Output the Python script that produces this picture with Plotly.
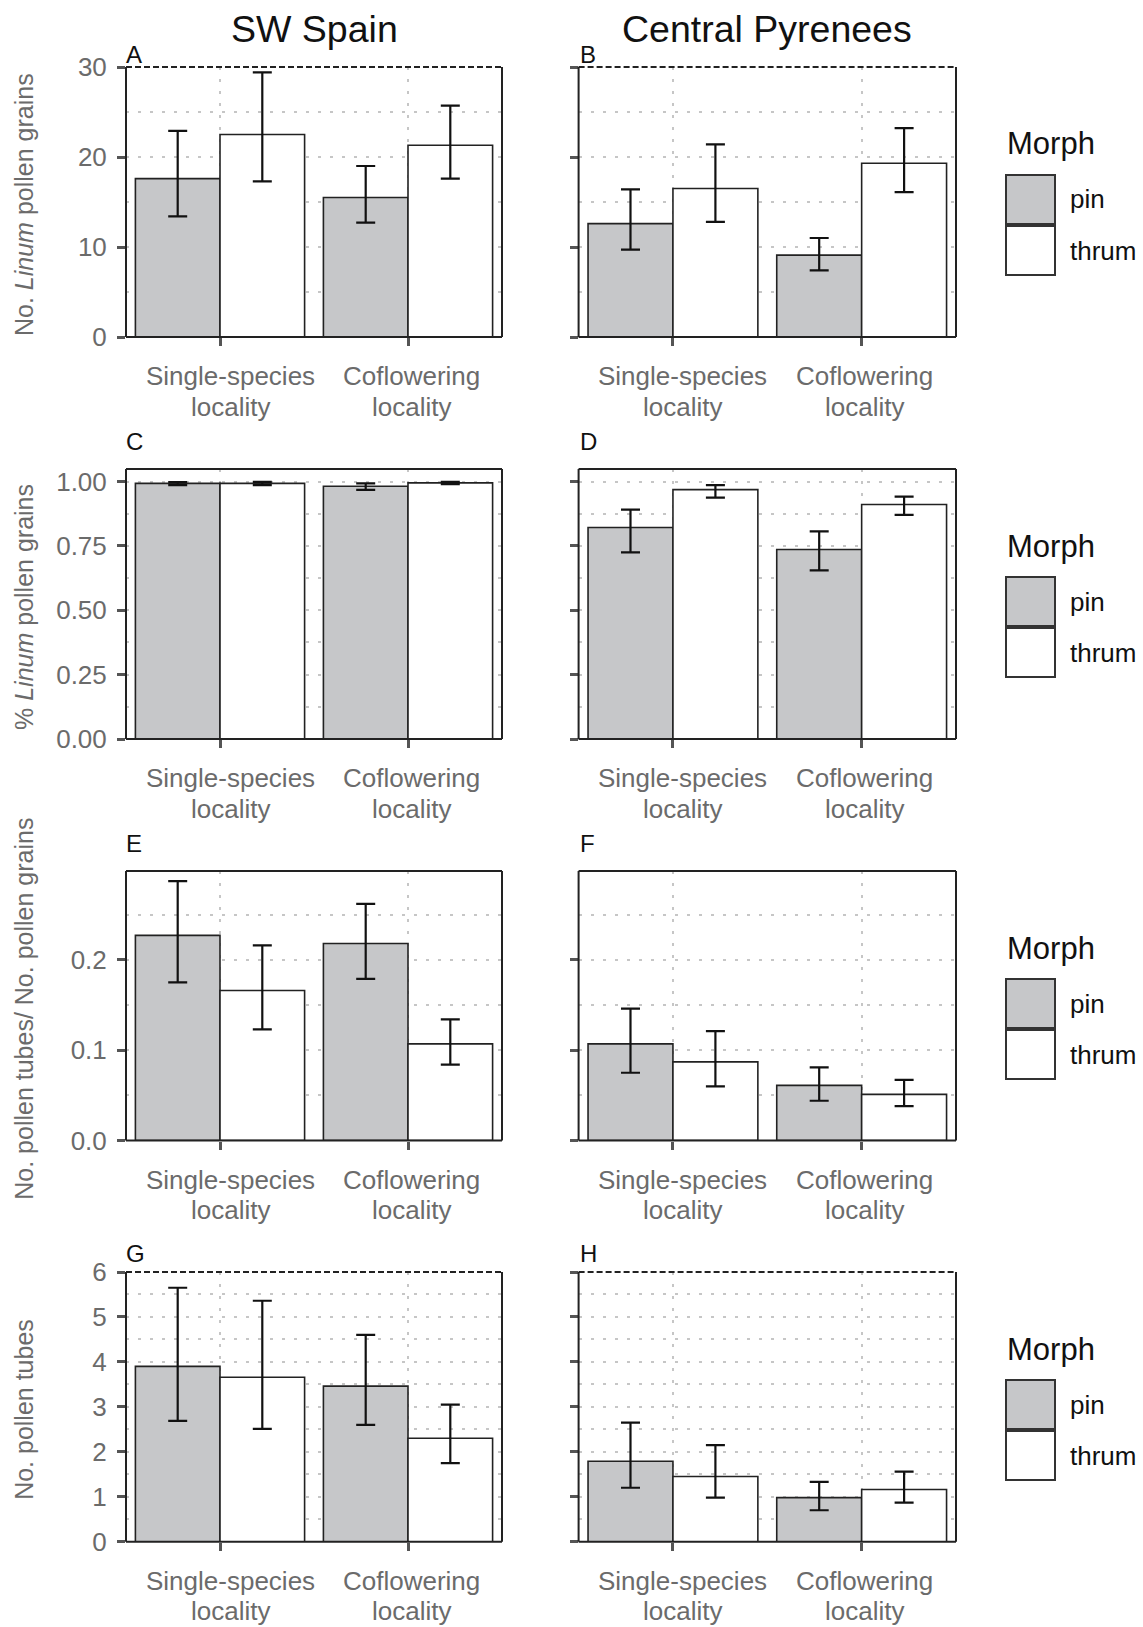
import plotly.graph_objects as go

# ---------------- data ----------------
categories = ["Single-species<br>locality", "Coflowering<br>locality"]
morphs = ["pin", "thrum"]
regions = ["SW Spain", "Central Pyrenees"]
panel_letters = ["A", "B", "C", "D", "E", "F", "G", "H"]
y_titles = ["No. <i>Linum</i> pollen grains", "% <i>Linum</i> pollen grains",
            "No. pollen tubes/ No. pollen grains", "No. pollen tubes"]

# A: SW Spain, No. Linum pollen grains
A_pin_mean = [17.6, 15.5]
A_pin_lo = [13.4, 12.7]
A_pin_hi = [22.9, 19.0]
A_thrum_mean = [22.5, 21.3]
A_thrum_lo = [17.3, 17.6]
A_thrum_hi = [29.4, 25.7]
# B: Central Pyrenees, No. Linum pollen grains
B_pin_mean = [12.6, 9.1]
B_pin_lo = [9.7, 7.4]
B_pin_hi = [16.4, 11.0]
B_thrum_mean = [16.5, 19.3]
B_thrum_lo = [12.8, 16.1]
B_thrum_hi = [21.4, 23.2]
# C: SW Spain, % Linum pollen grains
C_pin_mean = [0.993, 0.982]
C_pin_lo = [0.986, 0.968]
C_pin_hi = [0.998, 0.993]
C_thrum_mean = [0.993, 0.995]
C_thrum_lo = [0.986, 0.990]
C_thrum_hi = [0.999, 0.999]
# D: Central Pyrenees, % Linum pollen grains
D_pin_mean = [0.822, 0.736]
D_pin_lo = [0.725, 0.655]
D_pin_hi = [0.891, 0.807]
D_thrum_mean = [0.969, 0.911]
D_thrum_lo = [0.938, 0.871]
D_thrum_hi = [0.986, 0.942]
# E: SW Spain, pollen tubes / pollen grains
E_pin_mean = [0.227, 0.218]
E_pin_lo = [0.175, 0.179]
E_pin_hi = [0.287, 0.262]
E_thrum_mean = [0.166, 0.107]
E_thrum_lo = [0.123, 0.084]
E_thrum_hi = [0.216, 0.134]
# F: Central Pyrenees, pollen tubes / pollen grains
F_pin_mean = [0.107, 0.061]
F_pin_lo = [0.075, 0.044]
F_pin_hi = [0.146, 0.081]
F_thrum_mean = [0.087, 0.051]
F_thrum_lo = [0.060, 0.038]
F_thrum_hi = [0.121, 0.067]
# G: SW Spain, No. pollen tubes
G_pin_mean = [3.90, 3.46]
G_pin_lo = [2.69, 2.60]
G_pin_hi = [5.65, 4.60]
G_thrum_mean = [3.66, 2.30]
G_thrum_lo = [2.51, 1.75]
G_thrum_hi = [5.36, 3.05]
# H: Central Pyrenees, No. pollen tubes
H_pin_mean = [1.79, 0.98]
H_pin_lo = [1.20, 0.70]
H_pin_hi = [2.65, 1.33]
H_thrum_mean = [1.45, 1.16]
H_thrum_lo = [0.98, 0.87]
H_thrum_hi = [2.15, 1.56]

# y-axis settings per row
row_y_max = [30, 1.049, 0.2983, 6]
row_y_dtick = [10, 0.25, 0.1, 1]
row_y_minor = [5, 0.125, 0.05, 0.5]
row_y_fmt = ["d", ".2f", ".1f", "d"]

panels = [
    (A_pin_mean, A_pin_lo, A_pin_hi, A_thrum_mean, A_thrum_lo, A_thrum_hi),
    (B_pin_mean, B_pin_lo, B_pin_hi, B_thrum_mean, B_thrum_lo, B_thrum_hi),
    (C_pin_mean, C_pin_lo, C_pin_hi, C_thrum_mean, C_thrum_lo, C_thrum_hi),
    (D_pin_mean, D_pin_lo, D_pin_hi, D_thrum_mean, D_thrum_lo, D_thrum_hi),
    (E_pin_mean, E_pin_lo, E_pin_hi, E_thrum_mean, E_thrum_lo, E_thrum_hi),
    (F_pin_mean, F_pin_lo, F_pin_hi, F_thrum_mean, F_thrum_lo, F_thrum_hi),
    (G_pin_mean, G_pin_lo, G_pin_hi, G_thrum_mean, G_thrum_lo, G_thrum_hi),
    (H_pin_mean, H_pin_lo, H_pin_hi, H_thrum_mean, H_thrum_lo, H_thrum_hi),
]

# ---------------- layout geometry (pixels) ----------------
W, H = 1143, 1627
col_x = [(126.0, 502.0), (578.6, 956.0)]
row_y = [(67, 337), (469, 739), (871, 1140.5), (1272, 1541.7)]
letter_base = [63, 450, 852, 1262]
letter_x = [123.5, 578]
dashed_top_rows = [0, 3]
xlabel_shift = [10, 3]

FONT = "Liberation Sans, Arial, sans-serif"
GRAY_TXT = "#6b6b6b"
PIN_FILL = "#c6c7c9"
EDGE = "#222222"
GRID = "#c6c6c6"
GRID_DASH = "3px,9px"
TICK = "#555555"


def px(x):
    return x / W


def py(y):
    return 1 - y / H


fig = go.Figure()
annotations = []
shapes = []

for idx, (pm, plo, phi, tm, tlo, thi) in enumerate(panels):
    r, c = divmod(idx, 2)
    n = idx + 1
    xa = "x" if n == 1 else f"x{n}"
    ya = "y" if n == 1 else f"y{n}"
    for morph, mean, lo, hi, fill in [("pin", pm, plo, phi, PIN_FILL),
                                      ("thrum", tm, tlo, thi, "#ffffff")]:
        fig.add_trace(go.Bar(
            x=categories, y=mean, name=morph, xaxis=xa, yaxis=ya,
            marker=dict(color=fill, line=dict(color=EDGE, width=1.6)),
            error_y=dict(type="data", symmetric=False,
                         array=[h - m for h, m in zip(hi, mean)],
                         arrayminus=[m - l for m, l in zip(mean, lo)],
                         color="#111111", thickness=2.2, width=9.5),
            showlegend=False, offsetgroup=morph,
        ))
    x0, x1 = col_x[c]
    y0, y1 = row_y[r]
    xkey = "xaxis" if n == 1 else f"xaxis{n}"
    ykey = "yaxis" if n == 1 else f"yaxis{n}"
    fig.update_layout({
        xkey: dict(domain=[px(x0), px(x1)], anchor=ya, type="category",
                   range=[-0.5, 1.5], showgrid=True, gridcolor=GRID,
                   griddash=GRID_DASH, gridwidth=2, ticks="outside", ticklen=8,
                   tickwidth=2.7, tickcolor=TICK, showline=False, zeroline=False,
                   showticklabels=False, automargin=False, fixedrange=True),
        ykey: dict(domain=[py(y1), py(y0)], anchor=xa,
                   range=[0, row_y_max[r]], dtick=row_y_dtick[r], tick0=0,
                   tickformat=row_y_fmt[r], showgrid=True, gridcolor=GRID,
                   griddash=GRID_DASH, gridwidth=2, ticks="outside", ticklen=8,
                   tickwidth=2.7, tickcolor=TICK, zeroline=False, showline=False,
                   showticklabels=(c == 0), automargin=False,
                   tickfont=dict(family=FONT, size=26, color=GRAY_TXT),
                   ticklabelstandoff=5,
                   minor=dict(dtick=row_y_minor[r], tick0=0, showgrid=True,
                              gridcolor=GRID, griddash=GRID_DASH, gridwidth=2,
                              ticks=""),
                   fixedrange=True),
    })
    # category labels, one annotation per text line, placed on the category scale
    for k, cat in enumerate(categories):
        for li, line in enumerate(cat.split("<br>")):
            annotations.append(dict(text=line, xref=xa, yref="paper", x=cat,
                                    y=py(y1 + 39 + 30.5 * li), xanchor="center",
                                    yanchor="middle", xshift=xlabel_shift[k],
                                    showarrow=False,
                                    font=dict(family=FONT, size=26, color=GRAY_TXT)))
    # panel frame
    xd, yd = f"{xa} domain", f"{ya} domain"
    for (sx0, sy0, sx1, sy1, dash) in [
        (0, 0, 1, 0, "solid"), (0, 0, 0, 1, "solid"), (1, 0, 1, 1, "solid"),
        (0, 1, 1, 1, "6px,3px" if r in dashed_top_rows else "solid")]:
        shapes.append(dict(type="line", xref=xd, yref=yd, x0=sx0, y0=sy0,
                           x1=sx1, y1=sy1, line=dict(color=EDGE, width=2, dash=dash)))
    # panel letter
    annotations.append(dict(text=panel_letters[idx], xref="paper", yref="paper",
                            x=px(letter_x[c]), y=py(letter_base[r] - 8.5),
                            xanchor="left", yanchor="middle", showarrow=False,
                            font=dict(family=FONT, size=24, color="#111111")))

# column titles
for c in range(2):
    x0, x1 = col_x[c]
    annotations.append(dict(text=regions[c], xref="paper", yref="paper",
                            x=px((x0 + x1) / 2), y=py(29), xanchor="center",
                            yanchor="middle", showarrow=False,
                            font=dict(family=FONT, size=37.5, color="#111111")))

# y-axis titles
for r in range(4):
    y0, y1 = row_y[r]
    annotations.append(dict(text=y_titles[r], xref="paper", yref="paper",
                            x=px(24), y=py((y0 + y1) / 2 + 3), xanchor="center",
                            yanchor="middle", textangle=-90, showarrow=False,
                            font=dict(family=FONT, size=25, color=GRAY_TXT)))

# legends (one per row)
fills = [PIN_FILL, "#ffffff"]
for r in range(4):
    T = row_y[r][0]
    annotations.append(dict(text="Morph", xref="paper", yref="paper",
                            x=px(1005), y=py(T + 77), xanchor="left",
                            yanchor="middle", showarrow=False,
                            font=dict(family=FONT, size=31, color="#111111")))
    for k, m in enumerate(morphs):
        top = T + 108 + k * 51
        shapes.append(dict(type="rect", xref="paper", yref="paper",
                           x0=px(1006), x1=px(1055), y0=py(top + 49), y1=py(top),
                           fillcolor=fills[k], line=dict(color="#333333", width=2)))
        annotations.append(dict(text=m, xref="paper", yref="paper",
                                x=px(1068), y=py(top + 24.5), xanchor="left",
                                yanchor="middle", showarrow=False,
                                font=dict(family=FONT, size=26, color="#111111")))

fig.update_layout(
    template="none",
    width=W, height=H, margin=dict(l=0, r=0, t=0, b=0, autoexpand=False),
    paper_bgcolor="white", plot_bgcolor="white",
    barmode="group", bargap=0.1, bargroupgap=0,
    annotations=annotations, shapes=shapes, showlegend=False,
    font=dict(family=FONT),
)

fig.write_html("out.html", config={"displayModeBar": False},
               post_script="document.body.style.margin='0';document.body.style.overflow='hidden';")
